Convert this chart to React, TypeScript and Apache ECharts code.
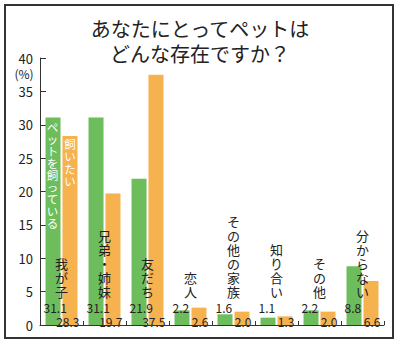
import React, { useEffect, useRef } from "react";
import * as echarts from "echarts";

const categories = ["我が子", "兄弟・姉妹", "友だち", "恋人", "その他の家族", "知り合い", "その他", "分からない"];
const ownPet = [31.1, 31.1, 21.9, 2.2, 1.6, 1.1, 2.2, 8.8];
const wantPet = [28.3, 19.7, 37.5, 2.6, 2.0, 1.3, 2.0, 6.6];
const seriesNames = ["ペットを飼っている", "飼いたい"];
const yTicks = { min: 0, max: 40, interval: 5 };
const titleLines = ["あなたにとってペットは", "どんな存在ですか？"];

const FONT = "'Noto Sans CJK JP', 'Noto Sans', sans-serif";
const GREEN = "#6dbd5c";
const ORANGE = "#f5b24f";
const TEXT = "#222";

const vertical = (s: string) => s.split("").join("\n");

export default function App() {
  const ref = useRef<HTMLDivElement>(null);
  useEffect(() => {
    if (!ref.current) return;
    const chart = echarts.init(ref.current, null, { renderer: "svg" });
    chart.setOption({
      animation: false,
      textStyle: { fontFamily: FONT },
      title: {
        text: titleLines.join("\n"),
        left: "center",
        top: 11,
        textStyle: { fontFamily: FONT, fontSize: 20, fontWeight: "normal", color: TEXT, lineHeight: 25 },
      },
      grid: { left: 40, right: 16, top: 58, bottom: 18, outerBoundsMode: "none", containLabel: false },
      xAxis: {
        type: "category",
        data: categories,
        z: 10,
        axisLine: { show: true, lineStyle: { color: "#333", width: 1 } },
        axisTick: { show: true, inside: true, length: 4, interval: 0, lineStyle: { color: "#333" } },
        axisLabel: {
          show: true,
          inside: true,
          interval: 0,
          margin: 27,
          fontSize: 13,
          lineHeight: 14,
          color: TEXT,
          fontFamily: FONT,
          formatter: (v: string) => vertical(v),
        },
      },
      yAxis: {
        type: "value",
        min: yTicks.min,
        max: yTicks.max,
        interval: yTicks.interval,
        splitLine: { show: false },
        axisLine: { show: true, lineStyle: { color: "#333", width: 1 } },
        axisTick: { show: true, inside: true, length: 6, lineStyle: { color: "#333" } },
        axisLabel: { fontSize: 13, color: TEXT, margin: 7, fontFamily: FONT },
      },
      series: [
        {
          name: seriesNames[0],
          type: "bar",
          data: ownPet,
          barWidth: 15,
          barGap: "13%",
          itemStyle: { color: GREEN },
          label: {
            show: true,
            position: "insideBottomLeft",
            distance: 0,
            offset: [-2, -12],
            fontSize: 12,
            color: TEXT,
            fontFamily: FONT,
            formatter: (p: any) => p.value.toFixed(1),
          },
        },
        {
          name: seriesNames[1],
          type: "bar",
          data: wantPet,
          barWidth: 15,
          barGap: "13%",
          itemStyle: { color: ORANGE },
          label: {
            show: true,
            position: "insideBottomRight",
            distance: 0,
            offset: [2, 2],
            fontSize: 12,
            color: TEXT,
            fontFamily: FONT,
            formatter: (p: any) => p.value.toFixed(1),
          },
        },
      ],
      graphic: [
        {
          type: "rect",
          shape: { x: 5, y: 5, width: 388, height: 333 },
          style: { fill: "none", stroke: "#333", lineWidth: 2 },
          silent: true,
        },
        {
          type: "text",
          x: 24,
          y: 73,
          style: { text: "(%)", fontSize: 12, fill: TEXT, align: "center", verticalAlign: "middle", fontFamily: FONT },
        },
        {
          type: "text",
          x: 52.5,
          y: 121,
          z: 100,
          style: {
            text: vertical(seriesNames[0]),
            fontSize: 11.5,
            lineHeight: 12,
            fill: "#fff",
            align: "center",
            verticalAlign: "top",
            fontFamily: FONT,
          },
        },
        {
          type: "text",
          x: 70,
          y: 138,
          z: 100,
          style: {
            text: vertical(seriesNames[1]),
            fontSize: 11.5,
            lineHeight: 12.3,
            fill: "#fff",
            align: "center",
            verticalAlign: "top",
            fontFamily: FONT,
          },
        },
      ],
    });
    return () => chart.dispose();
  }, []);
  return <div ref={ref} style={{ width: 400, height: 343, position: "absolute", left: 0, top: 0 }} />;
}
